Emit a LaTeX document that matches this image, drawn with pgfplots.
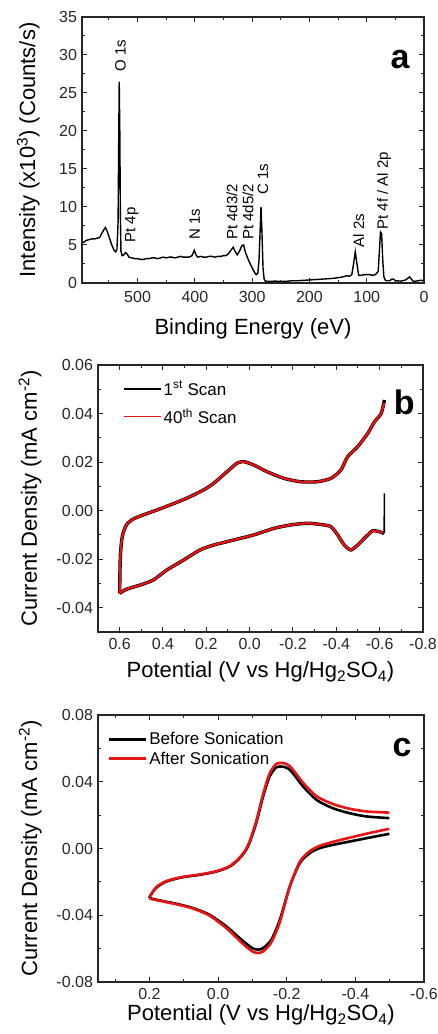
\documentclass[border=0pt]{standalone}
\usepackage{fontspec}
\setmainfont{Liberation Sans}
\usepackage{pgfplots}
\pgfplotsset{compat=1.18}
\definecolor{cvred}{RGB}{230,20,20}
\pgfplotsset{
  panel/.style={
    scale only axis, anchor=south west, x dir=reverse,
    axis line style={line width=1.2pt, black!85},
    every tick/.style={line width=1pt, black!85},
    major tick length=5pt, minor tick length=3pt,
    tick align=inside,
    ticklabel style={font=\fontsize{16}{19}\selectfont, black!85},
    yticklabel style={xshift=-1.5pt},
    xticklabel style={inner sep=1pt, yshift=-7.3pt},
    /pgf/number format/assume math mode=true,
    clip=false,
  },
  xlab/.style={every axis x label/.style={at={(axis description cs:0.5,#1)}, anchor=base, inner sep=0pt, font=\fontsize{22}{26}\selectfont}},
  ylab/.style={every axis y label/.style={at={(axis description cs:#1,0.5)}, rotate=90, anchor=base, inner sep=0pt, font=\fontsize{22}{26}\selectfont}},
  cvleg/.style={
    legend cell align=left,
    legend style={draw=none, fill=none, inner sep=0pt, anchor=north west,
      font=\fontsize{17}{20}\selectfont},
    legend image code/.code={\draw[##1] (0pt,0pt) -- (37pt,0pt);},
  },
}
\begin{document}
\begin{tikzpicture}
\useasboundingbox (0pt,0pt) rectangle (437pt,1034pt);
% ---------------- panel a ----------------
\begin{axis}[panel, at={(82pt,751pt)}, width=342pt, height=266pt,
  xmin=0, xmax=597, ymin=0, ymax=35,
  xtick={0,100,200,300,400,500}, minor xtick={50,150,250,350,450,550},
  ytick={0,5,10,15,20,25,30,35}, minor ytick={2.5,7.5,12.5,17.5,22.5,27.5,32.5},
  xlabel={Binding Energy (eV)},
  ylabel={Intensity (x10\textsuperscript{3}) (Counts/s)},
  xlab=-0.195, ylab=-0.137,
]
\addplot[black, line width=1.4pt] coordinates {
(597,5.3)(593,5.4)(590,5.6)(585,5.7)(580,5.8)(575,5.8)(570,5.9)(566,6.0)
(562,6.6)(558,7.1)(556,7.3)(553,6.8)(549,5.9)(545,5.0)(541,4.3)(538,4.1)
(536,4.4)(534,8)(533,18)(532,26.5)(531,20)(530,9)(529,4.2)(527,3.6)
(524,3.7)(521,4.0)(518,3.8)(515,3.4)(510,3.3)(505,3.2)(500,3.2)(495,3.1)
(490,3.1)(485,3.2)(480,3.2)(475,3.3)(470,3.3)(465,3.2)(460,3.3)(455,3.4)
(450,3.3)(445,3.4)(440,3.4)(435,3.3)(430,3.4)(425,3.5)(420,3.4)(415,3.4)
(410,3.4)(405,3.6)(401,4.3)(398,3.7)(395,3.4)(390,3.5)(385,3.4)(380,3.4)
(375,3.5)(370,3.5)(365,3.4)(360,3.5)(355,3.5)(350,3.6)(346,3.6)(342,3.8)
(337,4.3)(333,4.7)(330,4.2)(326,3.7)(322,4.2)(318,4.9)(315,5.0)(312,4.1)
(308,3.3)(304,2.6)(300,2.0)(296,1.4)(293,1.1)(290,1.3)(288,3)(286,7)
(284.5,10)(283,7)(281,2)(279,0.5)(277,0.25)(270,0.2)(260,0.25)(250,0.2)
(240,0.22)(230,0.3)(220,0.3)(210,0.35)(200,0.4)(190,0.45)(180,0.5)(170,0.55)
(160,0.6)(150,0.7)(145,0.75)(140,0.85)(135,0.95)(130,0.9)(126,1.1)(123,2.5)
(120,4.1)(117,2.5)(114,1.0)(110,1.0)(105,1.1)(100,1.1)(95,1.1)(90,1.0)
(85,1.1)(80,1.5)(78,4)(76,6.7)(74,6.5)(72,3)(70,0.8)(67,0.3)(60,0.3)
(56,0.5)(53,0.5)(50,0.3)(40,0.25)(32,0.4)(27,0.7)(25,0.8)(22,0.5)(18,0.2)
(10,0.3)(5,0.35)(0,0.3)};
\begin{scope}[every node/.style={rotate=90, anchor=west, inner sep=0pt,
   font=\fontsize{15}{17}\selectfont}]
\node at (axis cs:530,27.8) {O 1s};
\node at (axis cs:510,5.3) {Pt 4p};
\node at (axis cs:400,5.65) {N 1s};
\node at (axis cs:335,5.65) {Pt 4d3/2};
\node at (axis cs:307,5.65) {Pt 4d5/2};
\node at (axis cs:281,11.6) {C 1s};
\node at (axis cs:114,4.7) {Al 2s};
\node at (axis cs:70,7.0) {Pt 4f / Al 2p};
\end{scope}
\node[anchor=base, font=\fontsize{34}{38}\selectfont\bfseries] at (axis description cs:0.93,0.808) {a};
\end{axis}
% ---------------- panel b ----------------
\begin{axis}[panel, cvleg, at={(98pt,402pt)}, width=325pt, height=267pt,
  xmin=-0.8, xmax=0.7, ymin=-0.05, ymax=0.06,
  xtick={-0.8,-0.6,-0.4,-0.2,0,0.2,0.4,0.6},
  minor xtick={-0.7,-0.5,-0.3,-0.1,0.1,0.3,0.5},
  ytick={-0.04,-0.02,0,0.02,0.04,0.06},
  minor ytick={-0.05,-0.03,-0.01,0.01,0.03,0.05},
  xticklabel style={yshift=2pt, /pgf/number format/.cd, fixed, fixed zerofill, precision=1},
  yticklabel style={/pgf/number format/.cd, fixed, fixed zerofill, precision=2},
  scaled ticks=false,
  xlabel={Potential (V vs Hg/Hg\textsubscript{2}SO\textsubscript{4})},
  ylabel={Current Density (mA cm\textsuperscript{-2})},
  xlab=-0.172, ylab=-0.188,
  legend style={at={(axis description cs:0.077,0.948)}, row sep=8pt},
  legend image post style={line width=1.5pt},
]
\addplot[black, line width=3.4pt, smooth, tension=0.4] coordinates {
(0.600,-0.0341)(0.597,-0.019)(0.588,-0.0107)(0.569,-0.0059)(0.538,-0.0035)
(0.492,-0.0018)(0.430,0.0002)(0.368,0.0023)(0.291,0.0051)(0.213,0.0085)
(0.167,0.0112)(0.105,0.0160)(0.059,0.0195)(0.028,0.0202)(-0.019,0.0188)
(-0.081,0.0160)(-0.158,0.0133)(-0.235,0.0119)(-0.313,0.0119)(-0.375,0.0133)
(-0.421,0.0167)(-0.452,0.0222)(-0.498,0.0263)(-0.545,0.0318)(-0.576,0.0366)
(-0.607,0.0400)(-0.622,0.0456)};
\addlegendentry{1\textsuperscript{st} Scan}
\addplot[black, line width=1.6pt, forget plot] coordinates {
(-0.622,0.0071)(-0.621,-0.0094)};
\addplot[black, line width=3.4pt, smooth, tension=0.4, forget plot] coordinates {
(-0.620,-0.0094)(-0.599,-0.0087)(-0.568,-0.0083)(-0.537,-0.0107)(-0.498,-0.0142)
(-0.467,-0.0162)(-0.437,-0.0142)(-0.406,-0.0100)(-0.375,-0.0066)(-0.328,-0.0057)
(-0.266,-0.0052)(-0.189,-0.0059)(-0.112,-0.0073)(-0.019,-0.0100)(0.074,-0.0121)
(0.167,-0.0142)(0.229,-0.0162)(0.306,-0.0204)(0.383,-0.0245)(0.445,-0.0286)
(0.507,-0.0307)(0.569,-0.0324)(0.600,-0.0341)};
\addplot[cvred, line width=2.2pt, smooth, tension=0.4] coordinates {
(0.600,-0.0341)(0.597,-0.019)(0.588,-0.0107)(0.569,-0.0059)(0.538,-0.0035)
(0.492,-0.0018)(0.430,0.0002)(0.368,0.0023)(0.291,0.0051)(0.213,0.0085)
(0.167,0.0112)(0.105,0.0160)(0.059,0.0195)(0.028,0.0202)(-0.019,0.0188)
(-0.081,0.0160)(-0.158,0.0133)(-0.235,0.0119)(-0.313,0.0119)(-0.375,0.0133)
(-0.421,0.0167)(-0.452,0.0222)(-0.498,0.0263)(-0.545,0.0318)(-0.576,0.0366)
(-0.607,0.0400)(-0.620,0.0445)};
\addlegendentry{40\textsuperscript{th} Scan}
\addplot[cvred, line width=2.2pt, smooth, tension=0.4, forget plot] coordinates {
(-0.615,-0.0092)(-0.599,-0.0087)(-0.568,-0.0083)(-0.537,-0.0107)(-0.498,-0.0142)
(-0.467,-0.0162)(-0.437,-0.0142)(-0.406,-0.0100)(-0.375,-0.0066)(-0.328,-0.0057)
(-0.266,-0.0052)(-0.189,-0.0059)(-0.112,-0.0073)(-0.019,-0.0100)(0.074,-0.0121)
(0.167,-0.0142)(0.229,-0.0162)(0.306,-0.0204)(0.383,-0.0245)(0.445,-0.0286)
(0.507,-0.0307)(0.569,-0.0324)(0.600,-0.0341)};
\node[anchor=base, font=\fontsize{34}{38}\selectfont\bfseries] at (axis description cs:0.942,0.813) {b};
\end{axis}
% ---------------- panel c ----------------
\begin{axis}[panel, cvleg, at={(98pt,52pt)}, width=326pt, height=267pt,
  xmin=-0.6, xmax=0.35, ymin=-0.08, ymax=0.08,
  xtick={-0.6,-0.4,-0.2,0,0.2},
  minor xtick={-0.5,-0.3,-0.1,0.1,0.3},
  ytick={-0.08,-0.04,0,0.04,0.08},
  minor ytick={-0.06,-0.02,0.02,0.06},
  xticklabel style={yshift=1.8pt, /pgf/number format/.cd, fixed, fixed zerofill, precision=1},
  yticklabel style={/pgf/number format/.cd, fixed, fixed zerofill, precision=2},
  scaled ticks=false,
  xlabel={Potential (V vs Hg/Hg\textsubscript{2}SO\textsubscript{4})},
  ylabel={Current Density (mA cm\textsuperscript{-2})},
  xlab=-0.146, ylab=-0.187,
  legend style={at={(axis description cs:0.028,0.944)}, row sep=2pt},
  legend image post style={line width=3pt},
]
\addplot[black, line width=2.6pt, smooth, tension=0.45] coordinates {
(0.200,-0.0290)(0.181,-0.0237)(0.151,-0.0198)(0.103,-0.0172)(0.054,-0.0158)
(0.005,-0.0138)(-0.034,-0.0108)(-0.063,-0.0058)(-0.087,0.0012)(-0.111,0.0152)
(-0.131,0.0311)(-0.150,0.0431)(-0.170,0.0487)(-0.190,0.0490)(-0.205,0.0478)
(-0.218,0.0451)(-0.248,0.0371)(-0.287,0.0291)(-0.335,0.0241)(-0.384,0.0211)
(-0.433,0.0192)(-0.499,0.0182)};
\addlegendentry{Before Sonication}
\addplot[black, line width=2.6pt, smooth, tension=0.45, forget plot] coordinates {
(-0.499,0.0088)(-0.433,0.0062)(-0.384,0.0042)(-0.335,0.0022)(-0.296,0.0002)
(-0.267,-0.0028)(-0.238,-0.0088)(-0.209,-0.0227)(-0.180,-0.0427)(-0.155,-0.0547)
(-0.131,-0.0597)(-0.115,-0.0606)(-0.100,-0.0597)(-0.080,-0.0567)(-0.063,-0.0537)
(-0.024,-0.0467)(0.025,-0.0397)(0.073,-0.0357)(0.122,-0.0331)(0.171,-0.0311)
(0.200,-0.0297)};
\addplot[black, line width=2.6pt, forget plot] coordinates {(0.200,-0.0297)(0.200,-0.0290)};
\addplot[cvred, line width=2.6pt, smooth, tension=0.45] coordinates {
(0.200,-0.0293)(0.181,-0.0233)(0.151,-0.0195)(0.103,-0.0170)(0.054,-0.0156)
(0.005,-0.0136)(-0.034,-0.0105)(-0.063,-0.0054)(-0.087,0.0018)(-0.111,0.0163)
(-0.131,0.0325)(-0.150,0.0449)(-0.170,0.0508)(-0.190,0.0512)(-0.205,0.0500)
(-0.218,0.0473)(-0.248,0.0393)(-0.287,0.0313)(-0.335,0.0266)(-0.384,0.0238)
(-0.433,0.0222)(-0.499,0.0215)};
\addlegendentry{After Sonication}
\addplot[cvred, line width=2.6pt, smooth, tension=0.45, forget plot] coordinates {
(-0.499,0.0118)(-0.433,0.0089)(-0.384,0.0065)(-0.335,0.0040)(-0.296,0.0016)
(-0.267,-0.0016)(-0.238,-0.0080)(-0.209,-0.0228)(-0.180,-0.0440)(-0.155,-0.0563)
(-0.131,-0.0617)(-0.115,-0.0626)(-0.100,-0.0617)(-0.080,-0.0585)(-0.063,-0.0553)
(-0.024,-0.0477)(0.025,-0.0402)(0.073,-0.0360)(0.122,-0.0334)(0.171,-0.0313)
(0.200,-0.0300)};
\node[anchor=base, font=\fontsize{34}{38}\selectfont\bfseries] at (axis description cs:0.933,0.843) {c};
\end{axis}
\end{tikzpicture}
\end{document}
